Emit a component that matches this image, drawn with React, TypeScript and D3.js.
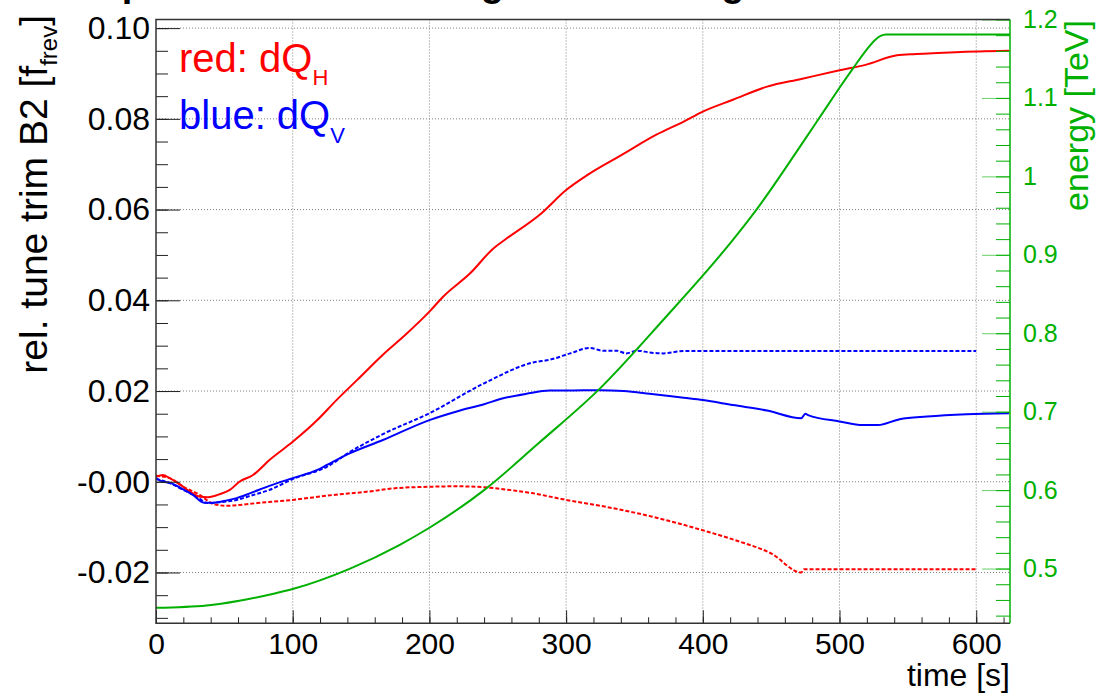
import { useRef, useEffect } from "react"
import * as d3 from "d3"

// [time s, relative tune trim]
const redSolid: [number, number][] = [
  [0, 0.0011], [5, 0.0015], [10, 0.0008], [18, -0.0007], [25, -0.0022], [32, -0.0033],
  [38, -0.0034], [47, -0.0027], [54, -0.0018], [61, 0.0], [71, 0.0015], [83, 0.0048],
  [100, 0.0088], [118, 0.0136], [132, 0.018], [147, 0.0224], [166, 0.028], [181, 0.032],
  [200, 0.0375], [210, 0.0408], [230, 0.046], [247, 0.0515], [255, 0.0533], [282, 0.0592],
  [300, 0.0643], [316, 0.0677], [341, 0.0721], [366, 0.0765], [386, 0.0794], [400, 0.0816],
  [422, 0.0842], [447, 0.0871], [472, 0.0888], [500, 0.0907], [519, 0.0919], [542, 0.094],
  [556, 0.0943], [585, 0.0947], [624, 0.095],
]

const redDotted: [number, number][] = [
  [0, 0.0013], [10, 0.0008], [20, -0.0011], [32, -0.0029], [42, -0.0049], [52, -0.0053],
  [61, -0.0051], [74, -0.0047], [100, -0.004], [130, -0.0029], [154, -0.0022], [176, -0.0014],
  [200, -0.0011], [220, -0.001], [240, -0.0012], [250, -0.0015], [275, -0.0025], [300, -0.004],
  [325, -0.0053], [350, -0.0068], [375, -0.0086], [400, -0.0107], [425, -0.013], [450, -0.0158],
  [472, -0.02], [474, -0.0193], [600, -0.0193],
]

const blueSolid: [number, number][] = [
  [0, 0.0008], [5, 0.0], [10, -0.0002], [20, -0.0017], [27, -0.0029], [35, -0.0046],
  [42, -0.0046], [52, -0.0041], [59, -0.0036], [69, -0.0025], [83, -0.0009], [100, 0.0008],
  [118, 0.0026], [125, 0.0037], [142, 0.0063], [166, 0.0092], [200, 0.0136], [220, 0.0155],
  [240, 0.0171], [254, 0.0184], [271, 0.0194], [288, 0.0201], [300, 0.0201], [325, 0.0202],
  [342, 0.02], [361, 0.0194], [386, 0.0185], [400, 0.018], [422, 0.0169], [447, 0.0157],
  [472, 0.014], [475, 0.015], [477, 0.0147], [500, 0.0133], [517, 0.0125], [528, 0.0125],
  [544, 0.0138], [564, 0.0144], [593, 0.0149], [624, 0.0151],
]

const blueDotted: [number, number][] = [
  [0, 0.0006], [10, -0.0003], [20, -0.0018], [30, -0.0033], [38, -0.0047], [47, -0.0045],
  [59, -0.004], [69, -0.0031], [83, -0.0018], [100, 0.0006], [125, 0.0033], [142, 0.0066],
  [166, 0.0105], [200, 0.0151], [240, 0.0217], [276, 0.0263], [288, 0.0269], [303, 0.0283],
  [317, 0.0295], [327, 0.0289], [337, 0.0289], [344, 0.0283], [352, 0.0289], [361, 0.0285],
  [371, 0.0283], [386, 0.0288], [600, 0.0288],
]

// [time s, beam energy TeV]
const energyTeV: [number, number][] = [
  [0, 0.45], [37, 0.453], [61, 0.459], [86, 0.468], [100, 0.474], [142, 0.5], [178, 0.53],
  [200, 0.552], [240, 0.6], [280, 0.66], [325, 0.73], [370, 0.815], [422, 0.919],
  [439, 0.957], [470, 1.035], [490, 1.087], [500, 1.113], [510, 1.138], [520, 1.162],
  [526, 1.174], [530, 1.179], [534, 1.181], [625, 1.181],
]

const timeTicks = [0, 100, 200, 300, 400, 500, 600]
const trimTicks = [-0.02, 0, 0.02, 0.04, 0.06, 0.08, 0.1]
const trimTickLabels = ["-0.02", "-0.00", "0.02", "0.04", "0.06", "0.08", "0.10"]
const energyTicks = [0.5, 0.6, 0.7, 0.8, 0.9, 1.0, 1.1, 1.2]
const energyTickLabels = ["0.5", "0.6", "0.7", "0.8", "0.9", "1", "1.1", "1.2"]

const FONT = "'Liberation Sans', Arial, Helvetica, sans-serif"
const GREEN = "#00b000"

const TuneTrimChart = () => {
  const svgRef = useRef<SVGSVGElement>(null)

  useEffect(() => {
    const svg = d3.select(svgRef.current)
    svg.selectAll("*").remove()

    const left = 156, right = 1010, top = 19.5, bottom = 623.3

    const x = d3.scaleLinear().domain([0, 624.7]).range([left, right])
    const y = d3.scaleLinear().domain([-0.0312, 0.1019]).range([bottom, top])
    const yE = d3.scaleLinear().domain([0.4302, 1.2]).range([bottom, top])

    svg.append("rect").attr("width", 1099).attr("height", 694).attr("fill", "#fff")

    // cut-off title at the top edge
    svg
      .append("text")
      .attr("x", 88)
      .attr("y", -4)
      .style("font-family", FONT)
      .style("font-weight", "bold")
      .style("font-size", "38px")
      .text("Input tune trims during the first long fill")

    svg
      .append("defs")
      .append("clipPath")
      .attr("id", "plot-clip")
      .append("rect")
      .attr("x", left)
      .attr("y", top)
      .attr("width", right - left)
      .attr("height", bottom - top)

    // grid
    const grid = svg.append("g").attr("stroke", "#808080").attr("stroke-width", 1).attr("stroke-dasharray", "1,2")
    grid
      .selectAll("line.v")
      .data(timeTicks.filter((d) => d > 0))
      .enter()
      .append("line")
      .attr("x1", (d) => x(d))
      .attr("x2", (d) => x(d))
      .attr("y1", top)
      .attr("y2", bottom)
    grid
      .selectAll("line.h")
      .data(trimTicks)
      .enter()
      .append("line")
      .attr("x1", left)
      .attr("x2", right)
      .attr("y1", (d) => y(d))
      .attr("y2", (d) => y(d))

    const line = d3
      .line<[number, number]>()
      .x((d) => x(d[0]))
      .y((d) => y(d[1]))
      .curve(d3.curveMonotoneX)
    const lineE = d3
      .line<[number, number]>()
      .x((d) => x(d[0]))
      .y((d) => yE(d[1]))
      .curve(d3.curveMonotoneX)

    const curves = svg.append("g").attr("clip-path", "url(#plot-clip)").attr("fill", "none")
    const series: { data: [number, number][]; color: string; dash: string | null }[] = [
      { data: redDotted, color: "#ff0000", dash: "4,2" },
      { data: blueDotted, color: "#0000ff", dash: "4,2" },
      { data: redSolid, color: "#ff0000", dash: null },
      { data: blueSolid, color: "#0000ff", dash: null },
    ]
    series.forEach((s) => {
      curves
        .append("path")
        .datum(s.data)
        .attr("stroke", s.color)
        .attr("stroke-width", 2)
        .attr("stroke-dasharray", s.dash)
        .attr("d", line)
    })
    curves.append("path").datum(energyTeV).attr("stroke", GREEN).attr("stroke-width", 2).attr("d", lineE)

    // left axis, ticks pointing into the frame
    const yMajor = svg
      .append("g")
      .attr("transform", `translate(${left},0)`)
      .call(
        d3
          .axisLeft(y)
          .tickValues(trimTicks)
          .tickSize(-24)
          .tickPadding(6)
          .tickFormat((_, i) => trimTickLabels[i]),
      )
    yMajor.select(".domain").remove()
    yMajor.selectAll("line").attr("stroke", "#222")
    yMajor.selectAll("text").style("font-family", FONT).style("font-size", "32px").attr("fill", "#000")

    const yMinor = svg
      .append("g")
      .attr("transform", `translate(${left},0)`)
      .call(
        d3
          .axisLeft(y)
          .tickValues(d3.range(-0.03, 0.1001, 0.005).filter((d) => y(d) <= bottom))
          .tickSize(-12)
          .tickFormat(() => ""),
      )
    yMinor.select(".domain").remove()
    yMinor.selectAll("line").attr("stroke", "#222")

    // bottom axis
    const xMajor = svg
      .append("g")
      .attr("transform", `translate(0,${bottom})`)
      .call(d3.axisBottom(x).tickValues(timeTicks).tickSize(-13).tickPadding(9).tickFormat(d3.format("d")))
    xMajor.select(".domain").remove()
    xMajor.selectAll("line").attr("stroke", "#222")
    xMajor.selectAll("text").style("font-family", FONT).style("font-size", "30px").attr("fill", "#000")

    const xMinor = svg
      .append("g")
      .attr("transform", `translate(0,${bottom})`)
      .call(
        d3
          .axisBottom(x)
          .tickValues(d3.range(0, 621, 20))
          .tickSize(-6)
          .tickFormat(() => ""),
      )
    xMinor.select(".domain").remove()
    xMinor.selectAll("line").attr("stroke", "#222")

    // right energy axis
    const eMajor = svg
      .append("g")
      .attr("transform", `translate(${right},0)`)
      .call(
        d3
          .axisRight(yE)
          .tickValues(energyTicks)
          .tickSize(-28)
          .tickPadding(13)
          .tickFormat((_, i) => energyTickLabels[i]),
      )
    eMajor.select(".domain").remove()
    eMajor.selectAll("line").attr("stroke", GREEN).attr("stroke-opacity", 0.6)
    eMajor.selectAll("text").style("font-family", FONT).style("font-size", "25px").attr("fill", GREEN)

    const eMinor = svg
      .append("g")
      .attr("transform", `translate(${right},0)`)
      .call(
        d3
          .axisRight(yE)
          .tickValues(d3.range(0.44, 1.2001, 0.02))
          .tickSize(-14)
          .tickFormat(() => ""),
      )
    eMinor.select(".domain").remove()
    eMinor.selectAll("line").attr("stroke", GREEN)

    // frame
    svg
      .append("path")
      .attr("d", `M${right},${top}H${left}V${bottom}H${right}`)
      .attr("fill", "none")
      .attr("stroke", "#333")
      .attr("stroke-width", 1.5)
    svg
      .append("line")
      .attr("x1", right)
      .attr("x2", right)
      .attr("y1", top)
      .attr("y2", bottom)
      .attr("stroke", GREEN)
      .attr("stroke-width", 1.5)

    // legend text
    const legend = svg.append("g").style("font-family", FONT)
    const red = legend.append("text").attr("x", 179).attr("y", 72).attr("fill", "#ff0000").style("font-size", "40px")
    red.append("tspan").text("red: dQ")
    red.append("tspan").attr("dy", 13).style("font-size", "22px").text("H")
    const blue = legend.append("text").attr("x", 179).attr("y", 129).attr("fill", "#0000ff").style("font-size", "40px")
    blue.append("tspan").text("blue: dQ")
    blue.append("tspan").attr("dy", 14).style("font-size", "22px").text("V")

    // axis titles
    const yTitle = svg
      .append("text")
      .attr("transform", `translate(47,15) rotate(-90)`)
      .attr("text-anchor", "end")
      .style("font-family", FONT)
      .style("font-size", "39px")
    yTitle.append("tspan").text("rel. tune trim B2 [f")
    yTitle.append("tspan").attr("dy", 10).style("font-size", "24px").text("frev")
    yTitle.append("tspan").attr("dy", -10).text("]")

    svg
      .append("text")
      .attr("transform", `translate(1088,20) rotate(-90)`)
      .attr("text-anchor", "end")
      .attr("fill", GREEN)
      .style("font-family", FONT)
      .style("font-size", "34px")
      .text("energy [TeV]")

    svg
      .append("text")
      .attr("x", right)
      .attr("y", 686)
      .attr("text-anchor", "end")
      .style("font-family", FONT)
      .style("font-size", "32px")
      .text("time [s]")
  }, [])

  return <svg ref={svgRef} width={1099} height={694} style={{ position: "absolute", left: 0, top: 0 }} />
}

export default function App() {
  return <TuneTrimChart />
}
